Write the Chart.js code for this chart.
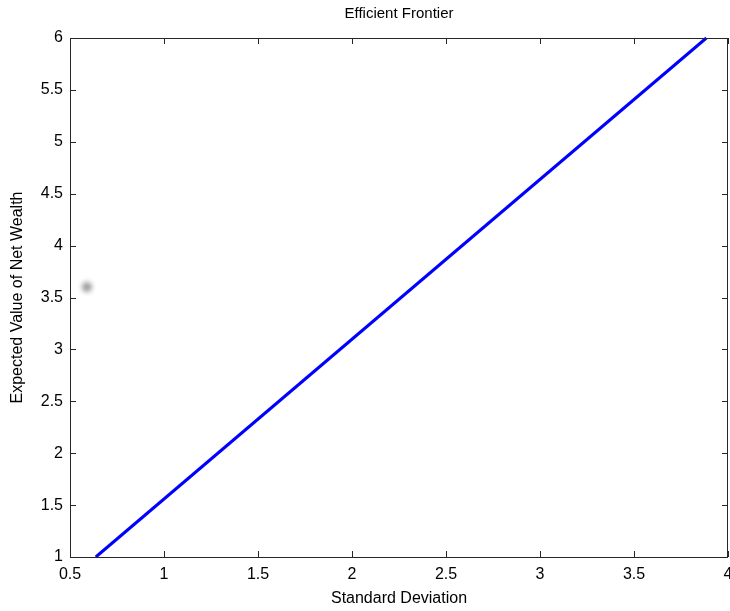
<!DOCTYPE html>
<html>
<head>
<meta charset="utf-8">
<script src="https://cdn.jsdelivr.net/npm/chart.js@4/dist/chart.umd.min.js"></script>
<style>
  html, body { margin: 0; padding: 0; background: #fff; }
  #wrap { width: 730px; height: 611px; }
</style>
</head>
<body>
<div id="wrap"><canvas id="frontierChart"></canvas></div>
<script>
// frontier line (std dev, expected net wealth)
const frontierStd = [0.637, 3.885];
const frontierValue = [1, 6];
// single grey point left of the axis
const pointStd = [0.59];
const pointValue = [3.6];

const xTicks = [0.5, 1, 1.5, 2, 2.5, 3, 3.5, 4];
const yTicks = [1, 1.5, 2, 2.5, 3, 3.5, 4, 4.5, 5, 5.5, 6];

const fontFamily = "'Liberation Sans', Arial, sans-serif";

// box round the plot with inward ticks on every side, and the title
const boxPlugin = {
  id: "box",
  afterLayout(chart) {
    // let the plot run to the right edge, the last label may be cut like in the original
    const xs = chart.scales.x;
    const right = chart.width - 2;
    chart.chartArea.right = right;
    chart.chartArea.width = right - chart.chartArea.left;
    xs.right = right;
    xs.width = right - xs.left;
    xs.configure();
  },
  beforeDatasetDraw(chart, args) {
    if (args.index === 1) {
      chart.ctx.save();
      chart.ctx.filter = "blur(2.5px)";
    }
  },
  afterDatasetDraw(chart, args) {
    if (args.index === 1) chart.ctx.restore();
  },
  afterDraw(chart) {
    const ctx = chart.ctx;
    const a = chart.chartArea;
    const xs = chart.scales.x;
    const ys = chart.scales.y;
    ctx.save();
    ctx.strokeStyle = "#262626";
    ctx.lineWidth = 1;
    ctx.strokeRect(Math.round(a.left) + 0.5, Math.round(a.top) + 0.5,
      Math.round(a.right - a.left) - 1, Math.round(a.bottom - a.top));
    ctx.beginPath();
    xTicks.forEach((v) => {
      const px = Math.round(xs.getPixelForValue(v)) + 0.5;
      ctx.moveTo(px, a.bottom);
      ctx.lineTo(px, a.bottom - 6);
      ctx.moveTo(px, a.top);
      ctx.lineTo(px, a.top + 6);
    });
    yTicks.forEach((v) => {
      const py = Math.round(ys.getPixelForValue(v)) + 0.5;
      ctx.moveTo(a.left, py);
      ctx.lineTo(a.left + 6, py);
      ctx.moveTo(a.right, py);
      ctx.lineTo(a.right - 6, py);
    });
    ctx.stroke();

    ctx.fillStyle = "#000";
    ctx.font = "15px " + fontFamily;
    ctx.textAlign = "center";
    ctx.textBaseline = "middle";
    ctx.fillText("Efficient Frontier", (a.left + a.right) / 2, 14);
    ctx.restore();
  },
};

new Chart(document.getElementById("frontierChart"), {
  type: "scatter",
  data: {
    datasets: [
      {
        label: "Frontier",
        data: frontierStd.map((s, i) => ({ x: s, y: frontierValue[i] })),
        showLine: true,
        borderColor: "#0000ff",
        borderWidth: 3,
        pointRadius: 0,
        clip: false,
      },
      {
        label: "Point",
        data: pointStd.map((s, i) => ({ x: s, y: pointValue[i] })),
        pointRadius: 5,
        pointBackgroundColor: "rgba(120,120,120,0.75)",
        pointBorderWidth: 0,
        clip: false,
      },
    ],
  },
  options: {
    responsive: true,
    maintainAspectRatio: false,
    animation: false,
    layout: { padding: { top: 38, right: 2, left: 0, bottom: 0 } },
    plugins: {
      legend: { display: false },
      tooltip: { enabled: false },
      title: { display: false },
    },
    scales: {
      x: {
        type: "linear",
        min: 0.5,
        max: 4,
        afterBuildTicks: (scale) => {
          scale.ticks = xTicks.map((v) => ({ value: v }));
        },
        afterFit: (scale) => {
          scale.height = 54;
        },
        grid: { display: false, drawTicks: false },
        border: { display: false },
        ticks: {
          padding: 8,
          color: "#000",
          font: { family: fontFamily, size: 16 },
          maxRotation: 0,
          callback: (v) => String(v),
        },
        title: {
          display: true,
          text: "Standard Deviation",
          color: "#000",
          font: { family: fontFamily, size: 16 },
          padding: { top: 0, bottom: 3 },
        },
      },
      y: {
        type: "linear",
        min: 1,
        max: 6,
        afterBuildTicks: (scale) => {
          scale.ticks = yTicks.map((v) => ({ value: v }));
        },
        afterFit: (scale) => {
          scale.width = 70;
        },
        grid: { display: false, drawTicks: false },
        border: { display: false },
        ticks: {
          padding: 7,
          color: "#000",
          font: { family: fontFamily, size: 16 },
          callback: (v) => String(v),
        },
        title: {
          display: true,
          text: "Expected Value of Net Wealth",
          color: "#000",
          font: { family: fontFamily, size: 16 },
          padding: { top: 8, bottom: 0 },
        },
      },
    },
  },
  plugins: [boxPlugin],
});
</script>
</body>
</html>
